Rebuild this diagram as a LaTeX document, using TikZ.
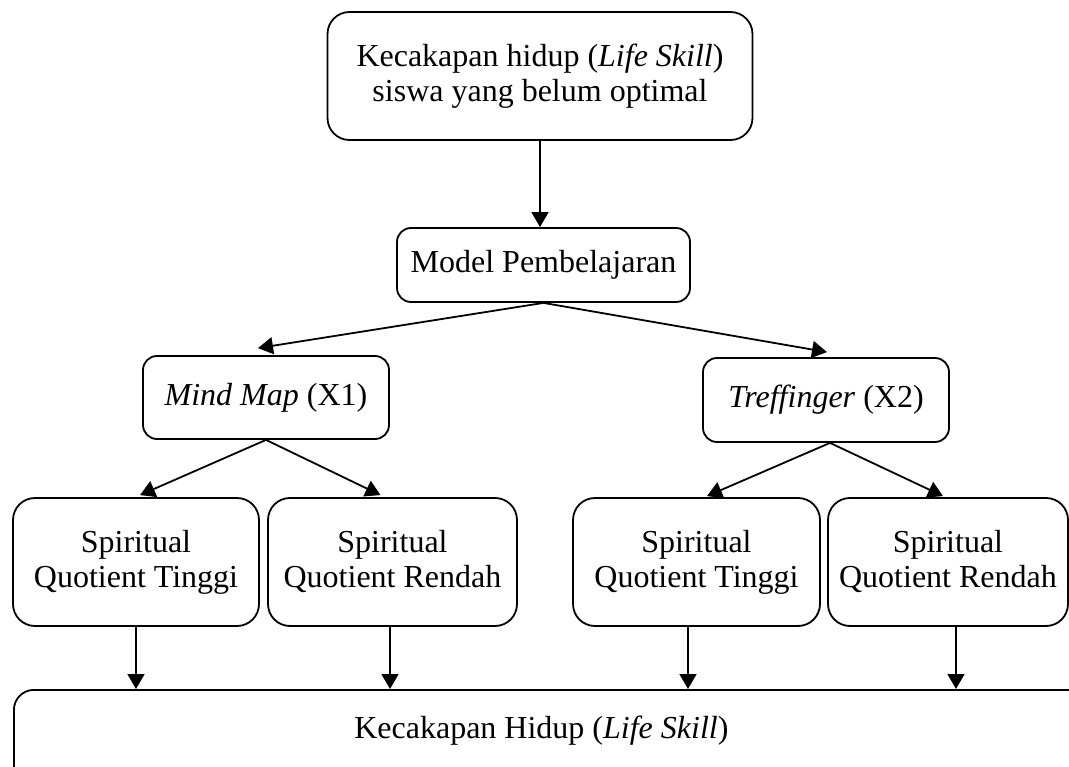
\documentclass[tikz,border=0pt]{standalone}
\usepackage{fontspec}
\setmainfont{Liberation Serif}
\usetikzlibrary{arrows.meta, positioning}

\begin{document}
\begin{tikzpicture}[x=1pt, y=-1pt, font=\fontsize{32}{35}\selectfont,
		box/.style={draw, line width=1.8pt, rounded corners=18pt, align=center, inner sep=0pt},
		sqbox/.style={box, minimum height=128, rounded corners=22pt, execute at end node=\vphantom{g}},
		arr/.style={line width=1.8pt, -{Triangle[length=15pt, width=17pt]}}]
			\useasboundingbox (0,0) rectangle (1069,767);
			\node[box, minimum width=425, minimum height=128, rounded corners=22pt] (masalah) at (540,76) {Kecakapan hidup (\textit{Life Skill})\\ siswa yang belum optimal};
			\node[box, minimum width=293, minimum height=74, rounded corners=14pt] (model) at (543.5,265) {Model Pembelajaran};
			\node[box, minimum width=246, minimum height=83, rounded corners=14pt] (mm) at (266,397.5) {\textit{Mind Map} (X1)};
			\node[box, minimum width=246, minimum height=84, rounded corners=14pt] (tf) at (826,400) {\textit{Treffinger} (X2)};
			\node[sqbox, minimum width=246] (sq1) at (136,562) {Spiritual\\Quotient Tinggi};
			\node[sqbox, minimum width=249] (sq2) at (392.5,562) {Spiritual\\Quotient Rendah};
			\node[sqbox, minimum width=247] (sq3) at (696.5,562) {Spiritual\\Quotient Tinggi};
			\node[sqbox, minimum width=240] (sq4) at (948,562) {Spiritual\\Quotient Rendah};
			\node[box, anchor=north west, minimum width=1075, minimum height=110, text height=22pt, text depth=34pt, rounded corners=20pt] (hasil) at (13,689) {\hspace*{-20pt}Kecakapan Hidup (\textit{Life Skill})};
			% panah
			\draw[arr] (masalah.south) -- (masalah.south |- model.north);
			\draw[arr] (model.south) -- ([xshift=-8pt, yshift=7pt]mm.north);
			\draw[arr] (model.south) -- ([xshift=1pt, yshift=5pt]tf.north);
			\draw[arr] (mm.south) -- ([xshift=4pt, yshift=2pt]sq1.north);
			\draw[arr] (mm.south) -- ([xshift=-12pt, yshift=2pt]sq2.north);
			\draw[arr] ([xshift=4pt]tf.south) -- ([xshift=10.5pt, yshift=1pt]sq3.north);
			\draw[arr] ([xshift=4pt]tf.south) -- ([xshift=-5pt, yshift=1pt]sq4.north);
			\draw[arr] (sq1.south) -- (sq1.south |- hasil.north);
			\draw[arr] ([xshift=-2.5pt]sq2.south) -- ([xshift=-2.5pt]sq2.south |- hasil.north);
			\draw[arr] ([xshift=-8.5pt]sq3.south) -- ([xshift=-8.5pt]sq3.south |- hasil.north);
			\draw[arr] ([xshift=8pt]sq4.south) -- ([xshift=8pt]sq4.south |- hasil.north);
		\end{tikzpicture}
\end{document}
